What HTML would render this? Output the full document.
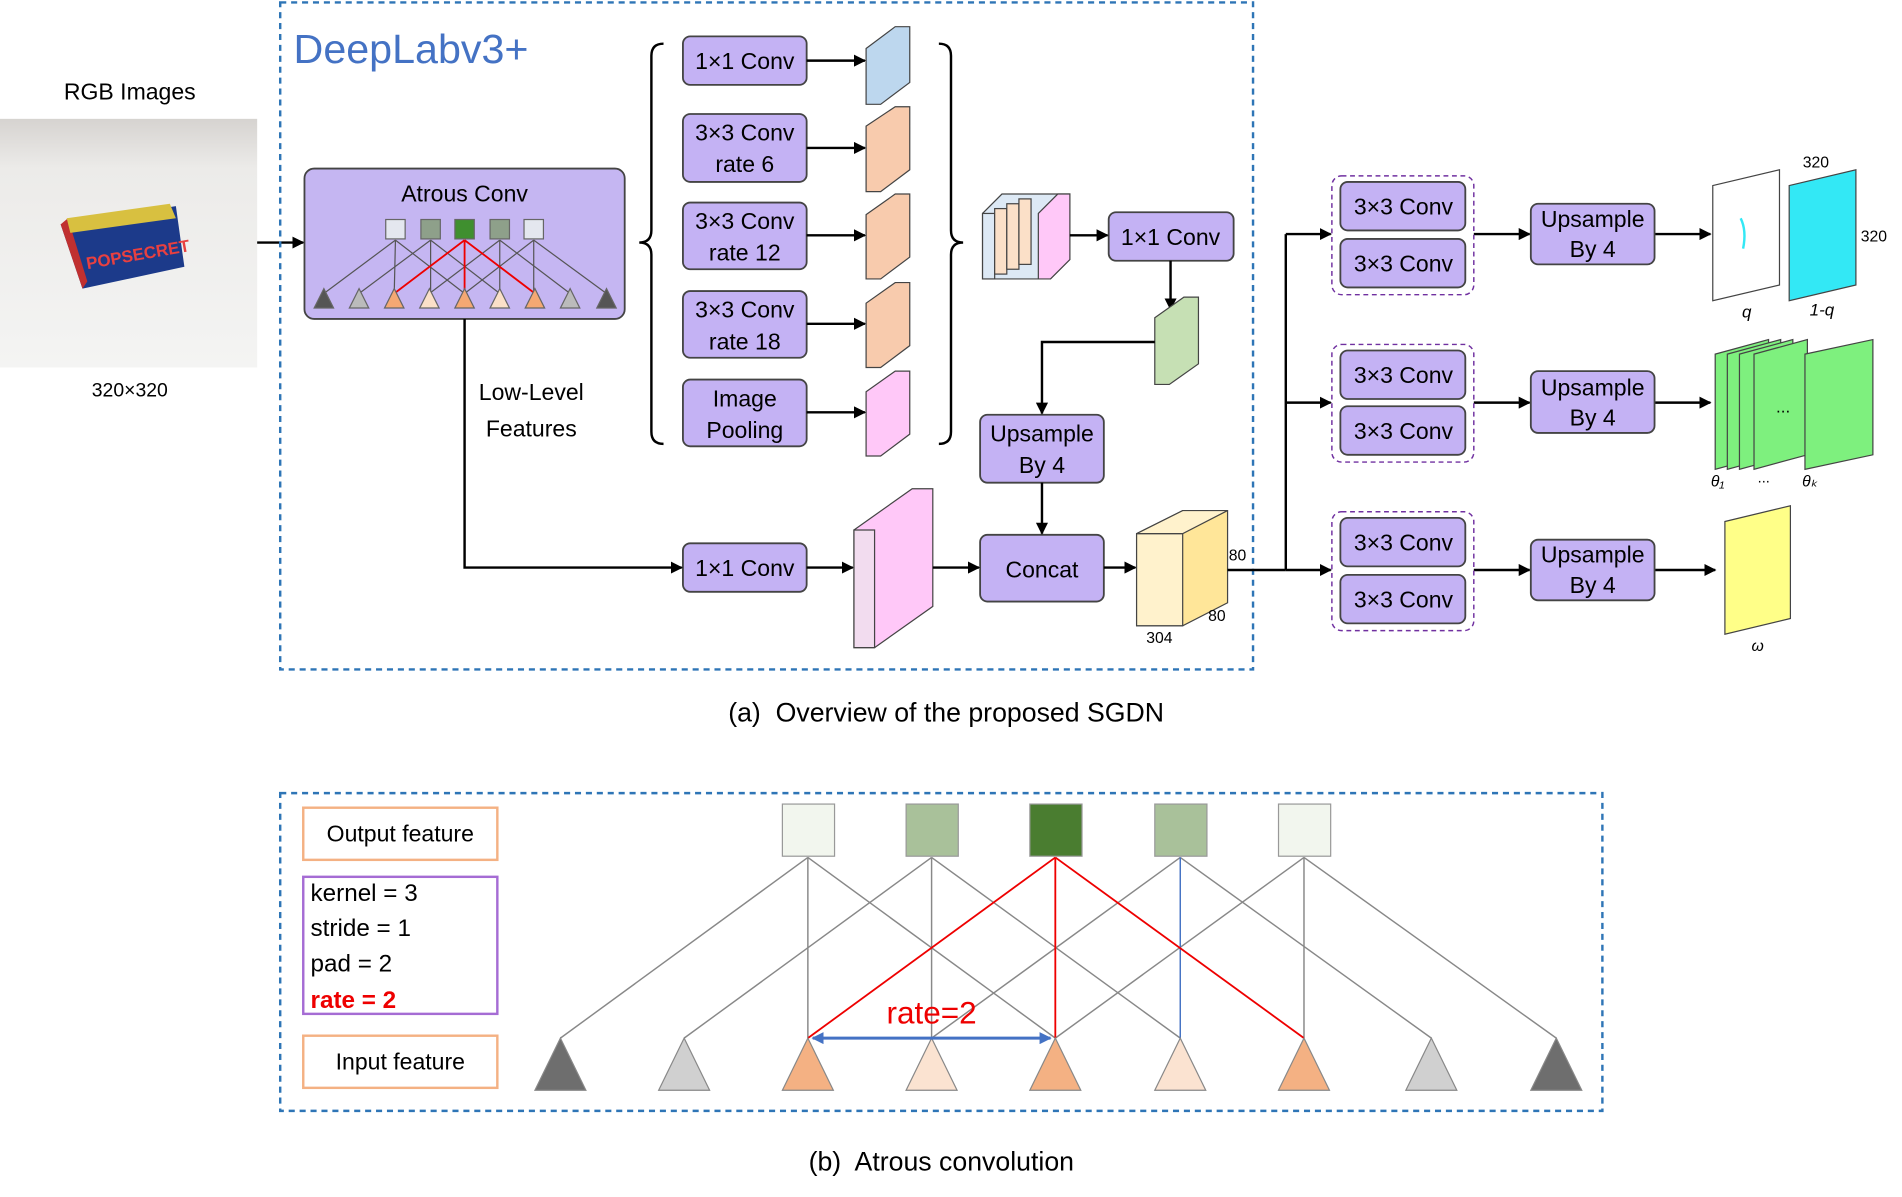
<!DOCTYPE html>
<html><head><meta charset="utf-8"><style>
html,body{margin:0;padding:0;background:#fff;}
svg{display:block;}
text{font-family:"Liberation Sans",sans-serif;}
</style></head><body>
<svg width="1902" height="1197" viewBox="0 0 1568 987" preserveAspectRatio="none" xmlns="http://www.w3.org/2000/svg">
<defs>
<marker id="ar" markerWidth="10" markerHeight="10" refX="9" refY="5" orient="auto" markerUnits="userSpaceOnUse"><path d="M0,0 L10,5 L0,10 z" fill="#000"/></marker>
<marker id="ab" markerWidth="10" markerHeight="10" refX="9" refY="5" orient="auto" markerUnits="userSpaceOnUse"><path d="M0,0 L10,5 L0,10 z" fill="#4472c4"/></marker>
<marker id="abs" markerWidth="10" markerHeight="10" refX="1" refY="5" orient="auto" markerUnits="userSpaceOnUse"><path d="M10,0 L0,5 L10,10 z" fill="#4472c4"/></marker>
<linearGradient id="ph" x1="0" y1="0" x2="0" y2="1"><stop offset="0" stop-color="#d6d3d0"/><stop offset="0.2" stop-color="#ecebe9"/><stop offset="1" stop-color="#f4f4f3"/></linearGradient>
</defs>
<!-- RGB image -->
<text x="107" y="82" font-size="19" text-anchor="middle">RGB Images</text>
<rect x="0" y="98" width="212" height="205" fill="url(#ph)"/>
<polygon points="50,185 145,170 152,220 68,238" fill="#1c3a8a"/>
<polygon points="50,185 68,238 72,232 56,180" fill="#c03030"/>
<polygon points="55,180 140,168 145,180 58,192" fill="#d8c040"/>
<text x="72" y="222" font-size="14" fill="#e84040" font-weight="bold" transform="rotate(-10 72 222)">POPSECRET</text>
<text x="107" y="327" font-size="16" text-anchor="middle">320×320</text>
<line x1="212" y1="200" x2="250" y2="200" stroke="#000" stroke-width="2" marker-end="url(#ar)"/>
<!-- Main dashed -->
<rect x="231" y="2" width="802" height="550" fill="none" stroke="#2e75b6" stroke-width="2" stroke-dasharray="5,4"/>
<text x="242" y="52" font-size="34" fill="#4472c4">DeepLabv3+</text>
<!-- Atrous conv -->
<rect x="251" y="139" width="264" height="124" rx="8" fill="#c5b6f2" stroke="#444" stroke-width="1.5"/>
<text x="383" y="166" font-size="19" text-anchor="middle">Atrous Conv</text>
<g stroke="#555" stroke-width="1">
<line x1="267" y1="242" x2="326" y2="198"/><line x1="325" y1="242" x2="326" y2="198"/><line x1="383" y1="242" x2="326" y2="198"/>
<line x1="296" y1="242" x2="355" y2="198"/><line x1="355" y1="242" x2="355" y2="198"/><line x1="412" y1="242" x2="355" y2="198"/>
<line x1="354" y1="242" x2="412" y2="198"/><line x1="412" y1="242" x2="412" y2="198"/><line x1="470" y1="242" x2="412" y2="198"/>
<line x1="383" y1="242" x2="440" y2="198"/><line x1="440" y1="242" x2="440" y2="198"/><line x1="500" y1="242" x2="440" y2="198"/>
</g>
<g stroke="#e00" stroke-width="1.5"><line x1="325" y1="242" x2="383" y2="198"/><line x1="383" y1="242" x2="383" y2="198"/><line x1="441" y1="242" x2="383" y2="198"/></g>
<rect x="318" y="181" width="16" height="16" fill="#e4e7ef" stroke="#666"/><rect x="347" y="181" width="16" height="16" fill="#8ea08a" stroke="#666"/>
<rect x="375" y="181" width="16" height="16" fill="#3f8f2f" stroke="#666"/><rect x="404" y="181" width="16" height="16" fill="#8ea08a" stroke="#666"/>
<rect x="432" y="181" width="16" height="16" fill="#e4e7ef" stroke="#666"/>
<g stroke="#666" stroke-width="1">
<polygon points="267,238 259,254 275,254" fill="#555"/><polygon points="296,238 288,254 304,254" fill="#bbb"/>
<polygon points="325,238 317,254 333,254" fill="#f4a873"/><polygon points="354,238 346,254 362,254" fill="#fbe0c8"/>
<polygon points="383,238 375,254 391,254" fill="#f4a873"/><polygon points="412,238 404,254 420,254" fill="#fbe0c8"/>
<polygon points="441,238 433,254 449,254" fill="#f4a873"/><polygon points="470,238 462,254 478,254" fill="#bbb"/>
<polygon points="500,238 492,254 508,254" fill="#555"/>
</g>
<!-- braces -->
<path d="M547,36 Q537,36 537,46 L537,190 Q537,200 527,200 Q537,200 537,210 L537,356 Q537,366 547,366" fill="none" stroke="#000" stroke-width="2"/>
<path d="M774,36 Q784,36 784,46 L784,190 Q784,200 794,200 Q784,200 784,210 L784,356 Q784,366 774,366" fill="none" stroke="#000" stroke-width="2"/>
<!-- conv boxes -->
<g fill="#c4b2f4" stroke="#444" stroke-width="1.5">
<rect x="563" y="30" width="102" height="40" rx="6"/><rect x="563" y="94" width="102" height="56" rx="6"/>
<rect x="563" y="167" width="102" height="55" rx="6"/><rect x="563" y="240" width="102" height="55" rx="6"/>
<rect x="563" y="313" width="102" height="55" rx="6"/>
<rect x="914" y="175" width="103" height="40" rx="6"/><rect x="808" y="342" width="102" height="56" rx="6"/>
<rect x="808" y="441" width="102" height="55" rx="6"/><rect x="563" y="448" width="102" height="40" rx="6"/>
</g>
<g font-size="19" text-anchor="middle">
<text x="614" y="57">1×1 Conv</text>
<text x="614" y="116">3×3 Conv</text><text x="614" y="142">rate 6</text>
<text x="614" y="189">3×3 Conv</text><text x="614" y="215">rate 12</text>
<text x="614" y="262">3×3 Conv</text><text x="614" y="288">rate 18</text>
<text x="614" y="335">Image</text><text x="614" y="361">Pooling</text>
<text x="965" y="202">1×1 Conv</text>
<text x="859" y="364">Upsample</text><text x="859" y="390">By 4</text>
<text x="859" y="476">Concat</text>
<text x="614" y="475">1×1 Conv</text>
<text x="438" y="330">Low-Level</text><text x="438" y="360">Features</text>
</g>
<!-- cuboids branch -->
<g stroke="#444" stroke-width="1">
<g fill="#bdd7ee"><polygon points="714,40 738,22 750,22 750,68 726,86 714,86"/></g>
<g fill="#f8cbad"><polygon points="714,104 738,88 750,88 750,140 726,158 714,158"/><polygon points="714,177 738,160 750,160 750,212 726,230 714,230"/><polygon points="714,250 738,233 750,233 750,285 726,303 714,303"/></g>
<g fill="#ffc8f8"><polygon points="714,323 738,306 750,306 750,358 726,376 714,376"/></g>
</g>
<g stroke="#000" stroke-width="2">
<line x1="665" y1="50" x2="713" y2="50" marker-end="url(#ar)"/><line x1="665" y1="122" x2="713" y2="122" marker-end="url(#ar)"/>
<line x1="665" y1="194" x2="713" y2="194" marker-end="url(#ar)"/><line x1="665" y1="267" x2="713" y2="267" marker-end="url(#ar)"/>
<line x1="665" y1="340" x2="713" y2="340" marker-end="url(#ar)"/>
</g>
<!-- stacked -->
<g stroke="#444" stroke-width="1">
<polygon points="810,176 826,160 882,160 882,214 866,230 810,230" fill="#dde9f5"/>
<rect x="810" y="176" width="10" height="54" fill="#dde9f5"/><rect x="820" y="172" width="10" height="54" fill="#fbe0c8"/>
<rect x="830" y="168" width="10" height="54" fill="#fbe0c8"/><rect x="840" y="164" width="10" height="54" fill="#fbe0c8"/>
<polygon points="856,176 872,160 882,160 882,214 866,230 856,230" fill="#ffc8f8"/>
</g>
<line x1="882" y1="194" x2="913" y2="194" stroke="#000" stroke-width="2" marker-end="url(#ar)"/>
<line x1="965" y1="215" x2="965" y2="255" stroke="#000" stroke-width="2" marker-end="url(#ar)"/>
<polygon points="952,262 976,245 988,245 988,300 964,317 952,317" fill="#c6e0b4" stroke="#444"/>
<polyline points="952,282 859,282 859,341" fill="none" stroke="#000" stroke-width="2" marker-end="url(#ar)"/>
<line x1="859" y1="398" x2="859" y2="440" stroke="#000" stroke-width="2" marker-end="url(#ar)"/>
<polyline points="383,263 383,468 562,468" fill="none" stroke="#000" stroke-width="2" marker-end="url(#ar)"/>
<line x1="665" y1="468" x2="703" y2="468" stroke="#000" stroke-width="2" marker-end="url(#ar)"/>
<polygon points="704,437 752,403 769,403 769,500 721,534 704,534" fill="#ffc8f8" stroke="#444"/>
<polygon points="704,437 721,437 721,534 704,534" fill="#f2dcef" stroke="#444"/>
<line x1="769" y1="468" x2="807" y2="468" stroke="#000" stroke-width="2" marker-end="url(#ar)"/>
<line x1="910" y1="468" x2="936" y2="468" stroke="#000" stroke-width="2" marker-end="url(#ar)"/>
<polygon points="937,440 975,421 1012,421 1012,497 975,516 937,516" fill="#ffe699" stroke="#444"/>
<polygon points="937,440 975,440 975,516 937,516" fill="#fff2cc" stroke="#444"/>
<polygon points="937,440 975,421 1012,421 975,440" fill="#fff2cc" stroke="#444"/>
<text x="1013" y="462" font-size="13">80</text><text x="996" y="512" font-size="13">80</text><text x="945" y="530" font-size="13">304</text>
<!-- right branch -->
<polyline points="1012,470 1060,470" fill="none" stroke="#000" stroke-width="2"/>
<line x1="1060" y1="193" x2="1060" y2="470" stroke="#000" stroke-width="2"/>
<g stroke="#000" stroke-width="2">
<line x1="1060" y1="193" x2="1097" y2="193" marker-end="url(#ar)"/><line x1="1060" y1="332" x2="1097" y2="332" marker-end="url(#ar)"/>
<line x1="1060" y1="470" x2="1097" y2="470" marker-end="url(#ar)"/>
<line x1="1215" y1="193" x2="1261" y2="193" marker-end="url(#ar)"/><line x1="1215" y1="332" x2="1261" y2="332" marker-end="url(#ar)"/>
<line x1="1215" y1="470" x2="1261" y2="470" marker-end="url(#ar)"/>
<line x1="1364" y1="193" x2="1410" y2="193" marker-end="url(#ar)"/><line x1="1364" y1="332" x2="1410" y2="332" marker-end="url(#ar)"/>
<line x1="1364" y1="470" x2="1414" y2="470" marker-end="url(#ar)"/>
</g>
<g fill="none" stroke="#7030a0" stroke-width="1.2" stroke-dasharray="4,3">
<rect x="1098" y="145" width="117" height="98" rx="8"/><rect x="1098" y="284" width="117" height="97" rx="8"/><rect x="1098" y="422" width="117" height="98" rx="8"/>
</g>
<g fill="#c4b2f4" stroke="#444" stroke-width="1.5">
<rect x="1105" y="150" width="103" height="40" rx="6"/><rect x="1105" y="197" width="103" height="40" rx="6"/>
<rect x="1105" y="289" width="103" height="40" rx="6"/><rect x="1105" y="335" width="103" height="40" rx="6"/>
<rect x="1105" y="427" width="103" height="40" rx="6"/><rect x="1105" y="474" width="103" height="40" rx="6"/>
<rect x="1262" y="168" width="102" height="50" rx="6"/><rect x="1262" y="306" width="102" height="51" rx="6"/><rect x="1262" y="445" width="102" height="50" rx="6"/>
</g>
<g font-size="19" text-anchor="middle">
<text x="1157" y="177">3×3 Conv</text><text x="1157" y="224">3×3 Conv</text>
<text x="1157" y="316">3×3 Conv</text><text x="1157" y="362">3×3 Conv</text>
<text x="1157" y="454">3×3 Conv</text><text x="1157" y="501">3×3 Conv</text>
<text x="1313" y="187">Upsample</text><text x="1313" y="212">By 4</text>
<text x="1313" y="326">Upsample</text><text x="1313" y="351">By 4</text>
<text x="1313" y="464">Upsample</text><text x="1313" y="489">By 4</text>
</g>
<!-- outputs -->
<polygon points="1412,153 1467,140 1467,235 1412,248" fill="#fff" stroke="#444"/>
<polygon points="1475,153 1530,140 1530,235 1475,248" fill="#33e8f5" stroke="#444"/>
<path d="M1435,180 q5,10 2,25" stroke="#33e8f5" stroke-width="2" fill="none"/>
<text x="1497" y="138" font-size="13" text-anchor="middle">320</text><text x="1534" y="199" font-size="13">320</text>
<text x="1440" y="262" font-size="14" font-style="italic" font-family="Liberation Serif" text-anchor="middle">q</text>
<text x="1502" y="260" font-size="14" font-style="italic" font-family="Liberation Serif" text-anchor="middle">1-q</text>
<g stroke="#444" fill="#7ef07e">
<polygon points="1414,292 1458,280 1458,375 1414,387"/><polygon points="1424,292 1468,280 1468,375 1424,387"/>
<polygon points="1434,292 1478,280 1478,375 1434,387"/><polygon points="1446,292 1490,280 1490,375 1446,387"/>
<polygon points="1488,292 1544,280 1544,375 1488,387"/>
</g>
<text x="1470" y="340" font-size="14" text-anchor="middle">...</text>
<text x="1416" y="401" font-size="13" font-style="italic" font-family="Liberation Serif" text-anchor="middle">θ₁</text>
<text x="1454" y="398" font-size="12" text-anchor="middle">...</text>
<text x="1492" y="401" font-size="13" font-style="italic" font-family="Liberation Serif" text-anchor="middle">θₖ</text>
<polygon points="1422,430 1476,417 1476,510 1422,523" fill="#ffff88" stroke="#444"/>
<text x="1449" y="537" font-size="13" font-style="italic" font-family="Liberation Serif" text-anchor="middle">ω</text>
<text x="780" y="595" font-size="22" text-anchor="middle" xml:space="preserve">(a)  Overview of the proposed SGDN</text>
<!-- (b) -->
<rect x="231" y="654" width="1090" height="262" fill="none" stroke="#2e75b6" stroke-width="2" stroke-dasharray="5,4"/>
<rect x="250" y="666" width="160" height="43" fill="none" stroke="#f4b183" stroke-width="2"/>
<text x="330" y="694" font-size="19" text-anchor="middle">Output feature</text>
<rect x="250" y="723" width="160" height="113" fill="none" stroke="#a56cd4" stroke-width="2"/>
<g font-size="20"><text x="256" y="743">kernel = 3</text><text x="256" y="772">stride = 1</text><text x="256" y="801">pad = 2</text>
<text x="256" y="831" fill="#e00" font-weight="bold">rate = 2</text></g>
<rect x="250" y="854" width="160" height="43" fill="none" stroke="#f4b183" stroke-width="2"/>
<text x="330" y="882" font-size="19" text-anchor="middle">Input feature</text>
<g stroke="#888" stroke-width="1.2">
<line x1="462" y1="856" x2="666" y2="707"/><line x1="666" y1="856" x2="666" y2="707"/><line x1="870" y1="856" x2="666" y2="707"/>
<line x1="564" y1="856" x2="768" y2="707"/><line x1="768" y1="856" x2="768" y2="707"/><line x1="973" y1="856" x2="768" y2="707"/>
<line x1="768" y1="856" x2="973" y2="707"/><line x1="1180" y1="856" x2="973" y2="707"/>
<line x1="870" y1="856" x2="1075" y2="707"/><line x1="1075" y1="856" x2="1075" y2="707"/><line x1="1283" y1="856" x2="1075" y2="707"/>
</g>
<line x1="973" y1="856" x2="973" y2="707" stroke="#4472c4" stroke-width="1.2"/>
<g stroke="#e00" stroke-width="1.5"><line x1="666" y1="856" x2="870" y2="707"/><line x1="870" y1="856" x2="870" y2="707"/><line x1="1075" y1="856" x2="870" y2="707"/></g>
<g stroke="#999" stroke-width="1">
<rect x="645" y="663" width="43" height="43" fill="#f2f6ee"/><rect x="747" y="663" width="43" height="43" fill="#a9c19a"/>
<rect x="849" y="663" width="43" height="43" fill="#4a7d30"/><rect x="952" y="663" width="43" height="43" fill="#a9c19a"/>
<rect x="1054" y="663" width="43" height="43" fill="#f2f6ee"/>
</g>
<g stroke="#888" stroke-width="1">
<polygon points="462,856 441,899 483,899" fill="#6e6e6e"/><polygon points="564,856 543,899 585,899" fill="#d0d0d0"/>
<polygon points="666,856 645,899 687,899" fill="#f4b183"/><polygon points="768,856 747,899 789,899" fill="#fbe3d1"/>
<polygon points="870,856 849,899 891,899" fill="#f4b183"/><polygon points="973,856 952,899 994,899" fill="#fbe3d1"/>
<polygon points="1075,856 1054,899 1096,899" fill="#f4b183"/><polygon points="1180,856 1159,899 1201,899" fill="#d0d0d0"/>
<polygon points="1283,856 1262,899 1304,899" fill="#6e6e6e"/>
</g>
<line x1="670" y1="856" x2="866" y2="856" stroke="#4472c4" stroke-width="2.5" marker-end="url(#ab)" marker-start="url(#abs)"/>
<text x="768" y="844" font-size="26" fill="#e00" text-anchor="middle">rate=2</text>
<text x="776" y="965" font-size="22" text-anchor="middle" xml:space="preserve">(b)  Atrous convolution</text>
</svg>
</body></html>
